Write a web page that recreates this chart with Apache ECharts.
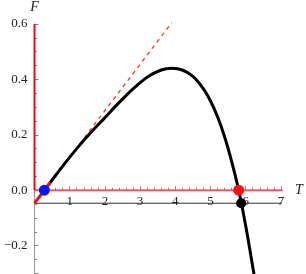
<!DOCTYPE html>
<html>
<head>
<meta charset="utf-8">
<script src="https://cdn.jsdelivr.net/npm/echarts@6/dist/echarts.min.js"></script>
<style>
html,body{margin:0;padding:0;background:#fff;}
#c{width:306px;height:274px;}
</style>
</head>
<body>
<div id="c"></div>
<script>
// Curve F(T)
const curveT = [0.28, 0.45, 0.8, 1.2, 1.6, 2.0, 2.4, 2.8, 3.2, 3.6, 3.9, 4.2, 4.5, 4.8, 5.0, 5.2, 5.4, 5.6, 5.8, 6.0, 6.26];
const curveF = [0.0, 0.028, 0.087, 0.150, 0.208, 0.262, 0.316, 0.366, 0.408, 0.434, 0.440, 0.434, 0.411, 0.366, 0.322, 0.265, 0.193, 0.104, 0.0, -0.128, -0.322];
// tangent line (solid red part, dashed part)
const tanSolidT = [0, 0.45];
const tanSolidF = [-0.047, 0.028];
const tanDashT = [0.45, 3.9];
const tanDashF = [0.028, 0.605];
// reference lines
const vertRedT = [0, 0];
const vertRedF = [0, 0.6];
const horizRedT = [0, 7.05];
const horizRedF = [0, 0];
const baseT = [0, 7.05];
const baseF = [-0.047, -0.047];
// points
const bluePt = [0.28, 0];
const redPt = [5.80, 0];
const blackPt = [5.87, -0.047];

const xTicks = [1, 2, 3, 4, 5, 6, 7];
const yTicks = [-0.2, 0.0, 0.2, 0.4, 0.6];

const zip = (a, b) => a.map((v, i) => [v, b[i]]);
const serif = 'Liberation Serif';
const PXT = 35.2, PXF = 277, LEFT = 34.5, TOP = 24;

const chart = echarts.init(document.getElementById('c'), null, {renderer: 'canvas'});
chart.setOption({
  animation: false,
  backgroundColor: '#fff',
  grid: [
    {left: LEFT, top: TOP, width: 7 * PXT, height: 0.9 * PXF, containLabel: false, outerBoundsMode: 'none'},
    {left: LEFT, top: TOP, width: 7 * PXT, height: 0.6 * PXF, containLabel: false, outerBoundsMode: 'none'}
  ],
  xAxis: [
    {gridIndex: 0, type: 'value', min: 0, max: 7, show: false},
    {
      gridIndex: 1, type: 'value', min: 0, max: 7, interval: 1, position: 'bottom',
      name: 'T', nameLocation: 'end', nameGap: 14,
      nameTextStyle: {fontFamily: serif, fontStyle: 'italic', fontSize: 14, color: '#222', verticalAlign: 'middle', padding: [0, 0, 4, 0]},
      axisLine: {onZero: false, lineStyle: {color: '#999', width: 1}},
      axisTick: {inside: true, length: 4, lineStyle: {color: '#888'}},
      minorTick: {show: true, splitNumber: 5, length: 2.5, lineStyle: {color: '#888'}},
      splitLine: {show: false},
      axisLabel: {
        margin: 5, fontFamily: serif, fontSize: 13, color: '#222',
        formatter: v => (xTicks.indexOf(v) >= 0 ? String(v) : '')
      }
    }
  ],
  yAxis: [
    {
      gridIndex: 0, type: 'value', min: -0.3, max: 0.6, splitNumber: 5,
      name: 'F', nameLocation: 'end', nameGap: 10,
      nameTextStyle: {fontFamily: serif, fontStyle: 'italic', fontSize: 14, color: '#222'},
      axisLine: {onZero: false, lineStyle: {color: '#999', width: 1}},
      axisTick: {inside: true, length: 4, lineStyle: {color: '#888'}},
      minorTick: {show: true, splitNumber: 4, length: 2.5, lineStyle: {color: '#888'}},
      splitLine: {show: false},
      axisLabel: {
        margin: 7, fontFamily: serif, fontSize: 13, color: '#222',
        formatter: v => {
          const r = Math.round(v * 10) / 10;
          if (Math.abs(r - v) > 1e-6) return '';
          if (!yTicks.some(t => Math.abs(t - r) < 1e-9)) return '';
          return (r < 0 ? '\u2212' : '') + Math.abs(r).toFixed(1);
        }
      }
    },
    {gridIndex: 1, type: 'value', min: 0, max: 0.6, show: false}
  ],
  series: [
    {type: 'line', data: zip(baseT, baseF), showSymbol: false, clip: false, z: 2,
     lineStyle: {color: '#333', width: 1}},
    {type: 'line', data: zip(horizRedT, horizRedF), showSymbol: false, clip: false, z: 3,
     lineStyle: {color: '#f25a5a', width: 2}},
    {type: 'line', data: zip(vertRedT, vertRedF), showSymbol: false, clip: false, z: 3,
     lineStyle: {color: '#e01010', width: 2}},
    {type: 'line', data: zip(tanDashT, tanDashF), showSymbol: false, clip: false, z: 3,
     lineStyle: {color: '#ff2020', width: 1.2, type: [4, 4]}},
    {type: 'line', data: zip(curveT, curveF), showSymbol: false, clip: false, smooth: 0.3, z: 4,
     lineStyle: {color: '#000', width: 3}},
    {type: 'line', data: zip(tanSolidT, tanSolidF), showSymbol: false, clip: false, z: 5,
     lineStyle: {color: '#ee1111', width: 3}},
    {type: 'scatter', data: [bluePt], symbolSize: 11, z: 6, itemStyle: {color: '#0a14ff', opacity: 1}},
    {type: 'scatter', data: [redPt], symbolSize: 11, z: 6, itemStyle: {color: '#ff1010', opacity: 1}},
    {type: 'scatter', data: [blackPt], symbolSize: 10, z: 6, itemStyle: {color: '#000', opacity: 1}}
  ]
});
</script>
</body>
</html>
